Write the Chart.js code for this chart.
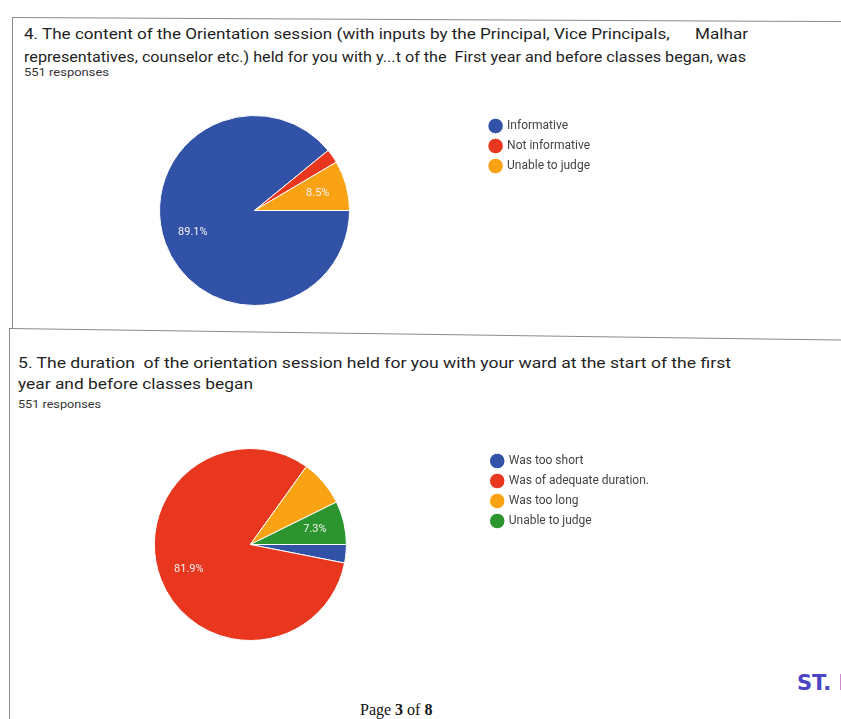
<!DOCTYPE html>
<html>
<head>
<meta charset="utf-8">
<script src="https://cdn.jsdelivr.net/npm/chart.js@4.4.1/dist/chart.umd.min.js"></script>
<style>
  html, body { margin: 0; padding: 0; background: #fff; }
  body { width: 841px; height: 719px; position: relative; overflow: hidden; font-family: Roboto, "Noto Sans", sans-serif; }
  .t { position: absolute; white-space: nowrap; color: #1f1f1f; transform-origin: 0 50%; }
  .q { font-size: 15px; line-height: 20px; }
  .r { font-size: 10px; line-height: 14px; color: #333; }
  .ln { position: absolute; background: #8a8a8a; transform-origin: 0 0; }
  canvas { position: absolute; }
</style>
</head>
<body>

<div class="ln" style="left:12px;top:17px;width:830px;height:1px;transform:rotate(0.28deg)"></div>
<div class="ln" style="left:12px;top:17px;width:1px;height:312px"></div>
<div class="ln" style="left:10px;top:328px;width:832px;height:1px;transform:rotate(0.8deg)"></div>
<div class="ln" style="left:9px;top:328px;width:1px;height:391px"></div>

<div class="t q" style="left:24px;top:24px" data-w="724">4. The content of the Orientation session (with inputs by the Principal, Vice Principals, &nbsp;&nbsp;&nbsp;&nbsp;&nbsp;Malhar</div>
<div class="t q" style="left:24px;top:47px" data-w="722">representatives, counselor etc.) held for you with y...t of the &nbsp;First year and before classes began, was</div>
<div class="t r" style="left:24px;top:66px" data-w="85">551 responses</div>

<div class="t q" style="left:18px;top:353px" data-w="713">5. The duration &nbsp;of the orientation session held for you with your ward at the start of the first</div>
<div class="t q" style="left:18px;top:374px" data-w="235">year and before classes began</div>
<div class="t r" style="left:18px;top:398px" data-w="83">551 responses</div>

<canvas id="c1" width="600" height="230" style="left:10px;top:100px"></canvas>
<canvas id="c2" width="680" height="230" style="left:0px;top:435px"></canvas>

<div class="t" style="left:360px;top:700px;font-family:'Liberation Serif',serif;font-size:16px;line-height:20px;color:#111">Page <b>3</b> of <b>8</b></div>
<div class="t" style="left:797px;top:670px;font-family:'DejaVu Sans',sans-serif;font-weight:bold;font-size:21px;line-height:26px;color:#4a45c4">ST. I</div>

<script>
// Q4 - content of the orientation session
var labels1 = ["Informative", "Not informative", "Unable to judge"];
var values1 = [89.1, 2.4, 8.5];
var shown1 = [true, false, true];

// Q5 - duration of the orientation session
var labels2 = ["Was too short", "Was of adequate duration.", "Was too long", "Unable to judge"];
var values2 = [3.1, 81.9, 7.8, 7.3];
var shown2 = [false, true, false, true];

var colors1 = ["#3152a6", "#e8361f", "#f9a314"];
var colors2 = ["#3152a6", "#e8361f", "#f9a314", "#2d952f"];

// stretch each text line to the width it has on the scan
document.querySelectorAll('[data-w]').forEach(function (el) {
	var w = el.getBoundingClientRect().width;
	el.style.transform = 'scaleX(' + (+el.dataset.w / w) + ')';
});

var pctLabels = {
	id: 'pctLabels',
	afterDatasetsDraw: function (chart, args, opts) {
		var ctx = chart.ctx;
		var meta = chart.getDatasetMeta(0);
		ctx.save();
		ctx.font = '11px Roboto, sans-serif';
		ctx.fillStyle = '#f2f2f2';
		ctx.textAlign = 'center';
		ctx.textBaseline = 'middle';
		meta.data.forEach(function (arc, i) {
			if (!opts.shown[i]) return;
			var p = arc.getProps(['x', 'y', 'startAngle', 'endAngle', 'outerRadius']);
			var mid = (p.startAngle + p.endAngle) / 2;
			var r = p.outerRadius * 0.69;
			var v = chart.data.datasets[0].data[i];
			ctx.fillText(v.toFixed(1) + '%', p.x + Math.cos(mid) * r, p.y + Math.sin(mid) * r);
		});
		ctx.restore();
	}
};

function drawPie(id, labels, values, colors, shown, radius, pad) {
	var ctx = document.getElementById(id).getContext('2d');
	return new Chart(ctx, {
		type: 'pie',
		data: {
			labels: labels,
			datasets: [{
				data: values,
				backgroundColor: colors,
				borderColor: '#ffffff',
				borderWidth: 1
			}]
		},
		options: {
			responsive: false,
			animation: false,
			rotation: 90,
			radius: radius,
			layout: { padding: pad },
			plugins: {
				legend: {
					position: 'right',
					align: 'start',
					labels: {
						usePointStyle: true,
						pointStyle: 'circle',
						boxWidth: 11,
						boxHeight: 11,
						padding: 8,
						color: '#444',
						font: { family: 'Roboto, sans-serif', size: 12 }
					}
				},
				tooltip: { enabled: false },
				pctLabels: { shown: shown }
			}
		},
		plugins: [pctLabels]
	});
}

drawPie('c1', labels1, values1, colors1, shown1, 95, { left: 17, top: 12, bottom: 21, right: 10 });
drawPie('c2', labels2, values2, colors2, shown2, 96, { left: 17, top: 12, bottom: 23, right: 21 });
</script>
</body>
</html>
